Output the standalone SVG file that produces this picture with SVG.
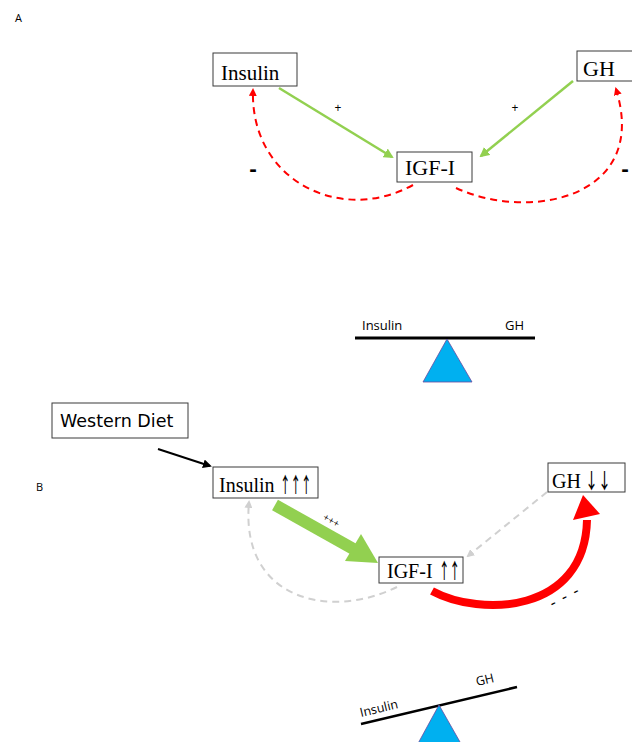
<svg xmlns="http://www.w3.org/2000/svg" width="632" height="742" viewBox="0 0 632 742">
<style>
.bg{fill:#fff}
.box{fill:#fff;stroke:#3a3a3a;stroke-width:1}
.t{font-family:"Liberation Serif","Times New Roman",serif;fill:#000}
.ar{font-family:"Noto Sans CJK JP","DejaVu Sans",sans-serif;font-weight:500;fill:#000}
.s{font-family:"Open Sans","Noto Sans",sans-serif;fill:#000}
.green{stroke:#92D050;stroke-width:2.5;fill:none}
.reddash{stroke:#FF0000;stroke-width:2;fill:none;stroke-dasharray:7,5}
.graydash{stroke:#d0d0d0;stroke-width:2;fill:none;stroke-dasharray:7,5}
.tri{fill:#00B0F0;stroke:#6a4aa0;stroke-width:0.8}
</style>
<defs>
<marker id="mg" markerWidth="10" markerHeight="10" refX="8" refY="5" orient="auto" markerUnits="userSpaceOnUse">
<path d="M0,0 L10,5 L0,10 z" fill="#92D050"/>
</marker>
<marker id="mr" markerWidth="8" markerHeight="8" refX="6" refY="4" orient="auto" markerUnits="userSpaceOnUse">
<path d="M0,0 L8,4 L0,8 z" fill="#FF0000"/>
</marker>
<marker id="mgr" markerWidth="8" markerHeight="8" refX="6" refY="4" orient="auto" markerUnits="userSpaceOnUse">
<path d="M0,0 L8,4 L0,8 z" fill="#d0d0d0"/>
</marker>
<marker id="mk" markerWidth="9" markerHeight="9" refX="7" refY="4.5" orient="auto" markerUnits="userSpaceOnUse">
<path d="M0,0 L9,4.5 L0,9 z" fill="#000"/>
</marker>
</defs>
<rect class="bg" x="0" y="0" width="632" height="742"/>

<text class="s" x="15" y="22" font-size="11">A</text>
<text class="s" x="36" y="491" font-size="11">B</text>

<g id="connectors">
  <!-- panel A -->
  <line class="green" x1="279" y1="88" x2="392" y2="157" marker-end="url(#mg)"/>
  <line class="green" x1="573" y1="81" x2="481" y2="156" marker-end="url(#mg)"/>
  <path class="reddash" d="M413,185 C340,225 250,180 253,90" marker-end="url(#mr)"/>
  <path class="reddash" d="M456,188 C530,222 650,198 616,89" marker-end="url(#mr)"/>
  <text class="s" x="338" y="112" font-size="12" text-anchor="middle">+</text>
  <text class="s" x="515" y="112" font-size="12" text-anchor="middle">+</text>
  <text class="s" x="253" y="176" font-size="22" font-weight="bold" text-anchor="middle">-</text>
  <text class="s" x="625" y="176" font-size="22" font-weight="bold" text-anchor="middle">-</text>

  <!-- panel B -->
  <line x1="158" y1="449" x2="210" y2="466" stroke="#000" stroke-width="2" marker-end="url(#mk)"/>
  <line x1="275" y1="505" x2="357" y2="551" stroke="#92D050" stroke-width="12"/>
  <path d="M378,563 L345,561 L361,534 z" fill="#92D050"/>
  <text class="s" x="331" y="524" font-size="10" text-anchor="middle" transform="rotate(30 331 521)">+++</text>
  <line class="graydash" x1="547" y1="492" x2="468" y2="556" marker-end="url(#mgr)"/>
  <path class="graydash" d="M397,587 C330,620 240,600 249,502" marker-end="url(#mgr)"/>
  <path d="M432,591 C480,617 585,614 587,520" stroke="#FF0000" stroke-width="8" fill="none"/>
  <path d="M583,495 L573,520 L600,514 z" fill="#FF0000"/>
  <text class="s" x="565" y="602" font-size="17" letter-spacing="1.5" text-anchor="middle" transform="rotate(-28 565 597)">- - -</text>
</g>

<g id="insulin-a">
  <rect class="box" x="213" y="53" width="84" height="33"/>
  <text class="t" x="221" y="80" font-size="21">Insulin</text>
</g>
<g id="gh-a">
  <rect class="box" x="577" y="51" width="60" height="30"/>
  <text class="t" x="583" y="76" font-size="22">GH</text>
</g>
<g id="igf-a">
  <rect class="box" x="397" y="152" width="75" height="30"/>
  <text class="t" x="405" y="175" font-size="22">IGF-I</text>
</g>

<g id="balance-a">
  <line x1="355" y1="338" x2="535" y2="338" stroke="#000" stroke-width="3"/>
  <path class="tri" d="M447,339 L472,382 L423,382 z"/>
  <text class="s" x="362" y="330" font-size="13">Insulin</text>
  <text class="s" x="505" y="330" font-size="13">GH</text>
</g>

<g id="western-diet">
  <rect class="box" x="52" y="403" width="136" height="35"/>
  <text x="60" y="427" font-family="'DejaVu Sans',sans-serif" font-size="17.5">Western Diet</text>
</g>
<g id="insulin-b">
  <rect class="box" x="213" y="467" width="105" height="31"/>
  <text class="t" x="219" y="492" font-size="20">Insulin</text>
  <text class="ar" font-size="21" transform="translate(280 492) scale(0.5 1)">↑↑↑</text>
</g>
<g id="gh-b">
  <rect class="box" x="548" y="463" width="77" height="29"/>
  <text class="t" x="552" y="488" font-size="20">GH</text>
  <text class="ar" font-size="21" transform="translate(585 488) scale(0.62 1)">↓↓</text>
</g>
<g id="igf-b">
  <rect class="box" x="379" y="557" width="84" height="26"/>
  <text class="t" x="387" y="578" font-size="20">IGF-I</text>
  <text class="ar" font-size="21" transform="translate(439 578) scale(0.5 1)">↑↑</text>
</g>

<g id="balance-b">
  <line x1="361" y1="724" x2="517" y2="687" stroke="#000" stroke-width="2.5"/>
  <path class="tri" d="M439,705 L464,749 L415,749 z"/>
  <text class="s" x="361" y="717" font-size="12.5" transform="rotate(-13.3 361 717)">Insulin</text>
  <text class="s" x="477" y="686" font-size="12.5" transform="rotate(-13.3 477 686)">GH</text>
</g>
</svg>
